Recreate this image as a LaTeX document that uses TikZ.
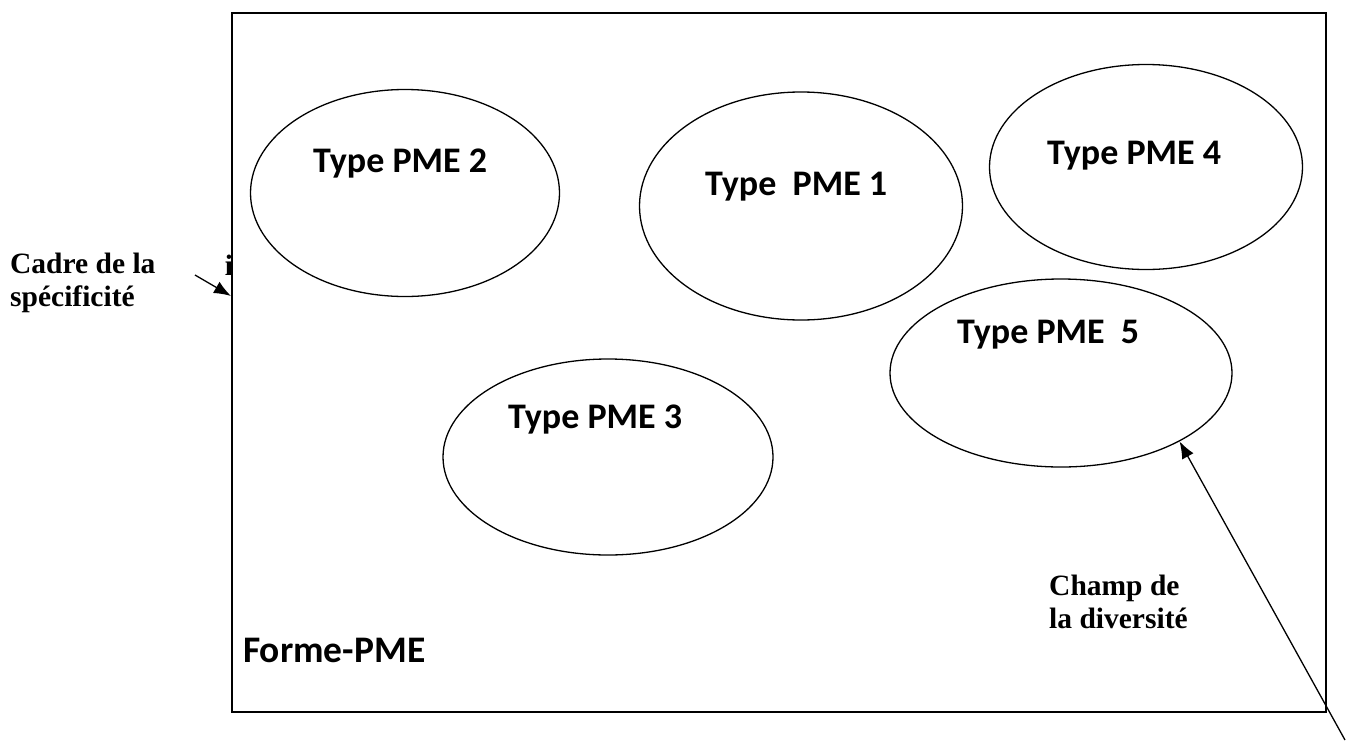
\documentclass[tikz,border=0pt]{standalone}
\usepackage{fontspec}
\setmainfont{Liberation Serif}
\newfontfamily\calib{Carlito}
\usetikzlibrary{shapes.geometric,arrows.meta}
\tikzset{
  typebox/.style={draw, ellipse, line width=1.3pt, inner sep=0pt},
  typelabel/.style={font=\calib\bfseries\fontsize{36}{40}\selectfont, anchor=base west, inner sep=0pt},
  sidelabel/.style={font=\bfseries\fontsize{29.5}{33}\selectfont, anchor=base west, inner sep=0pt},
  pointer/.style={line width=1.3pt, -{Latex[length=17pt,width=13pt]}}
}
\begin{document}
\begin{tikzpicture}[x=1pt,y=-1pt]
\useasboundingbox (0,0) rectangle (1347,742);
% stray letter partly hidden by the frame
\node[font=\bfseries\fontsize{29.5}{33}\selectfont, inner sep=0pt, anchor=base] (stray) at (229,275) {i};
% outer frame
\node[draw, fill=white, line width=2pt, inner sep=0pt, minimum width=1094pt, minimum height=699pt, anchor=north west] (frame) at (231,12) {};
% ellipses
\node[typebox, minimum width=309pt, minimum height=207pt] (e2) at (405,193) {};
\node[typebox, minimum width=323pt, minimum height=228pt] (e1) at (801,206) {};
\node[typebox, minimum width=313pt, minimum height=205pt] (e4) at (1146,167) {};
\node[typebox, minimum width=342pt, minimum height=188pt] (e5) at (1061,373) {};
\node[typebox, minimum width=330pt, minimum height=196pt] (e3) at (608,457) {};
% labels inside
\node[typelabel] (t2) at (313,172) {Type PME 2};
\node[typelabel] (t1) at (705,195) {Type\ \ PME 1};
\node[typelabel] (t4) at (1047,164) {Type PME 4};
\node[typelabel] (t5) at (957,343) {Type PME\ \ 5};
\node[typelabel] (t3) at (508,428) {Type PME 3};
\node[typelabel, font=\calib\bfseries\fontsize{37.5}{40}\selectfont] (forme) at (243,662) {Forme-PME};
% side labels
\node[sidelabel] (cadre1) at (10,273) {Cadre de la};
\node[sidelabel] (cadre2) at (10,306) {spécificité};
\node[sidelabel] (champ1) at (1049,595) {Champ de};
\node[sidelabel] (champ2) at (1049,628) {la diversité};
% arrows
\coordinate (c1) at (195,275);
\coordinate (c1tip) at (229,296);
\draw[pointer] (c1) -- (frame.west |- c1tip);
\coordinate (c2) at (1345,740);
\draw[pointer] (c2) -- (e5.-30);
\end{tikzpicture}
\end{document}
